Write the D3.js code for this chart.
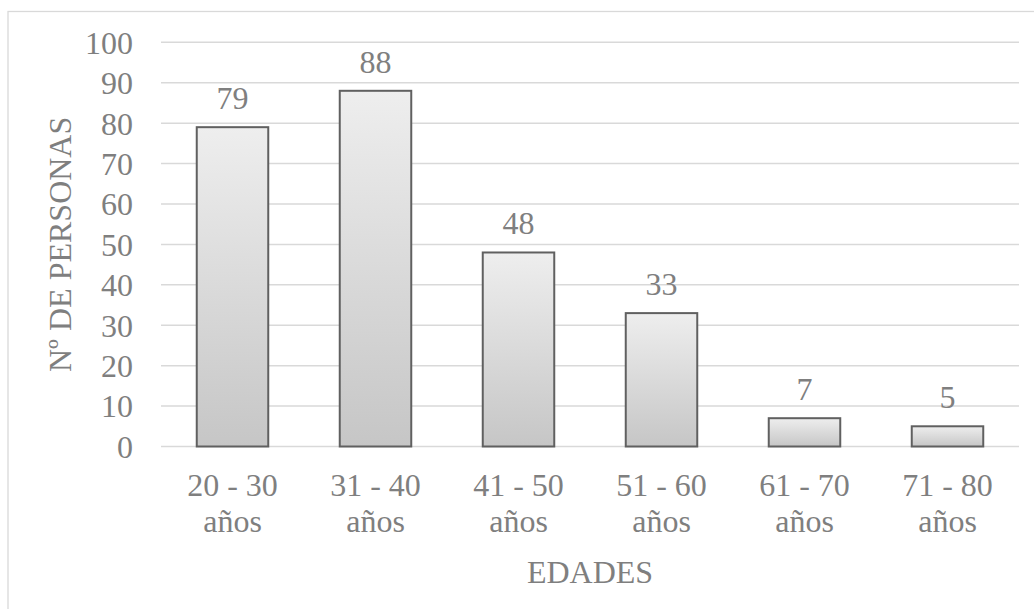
<!DOCTYPE html>
<html><head><meta charset="utf-8">
<script src="https://cdn.jsdelivr.net/npm/d3@7"></script>
<style>html,body{margin:0;padding:0;background:#fff;}svg{display:block;}
svg text{font-family:"Liberation Serif","Times New Roman",Times,"DejaVu Serif",serif;}</style>
</head><body>
<svg id="chart" width="1034" height="609"></svg>
<script>
const categories = [["20 - 30","años"],["31 - 40","años"],["41 - 50","años"],["51 - 60","años"],["61 - 70","años"],["71 - 80","años"]];
const values = [79, 88, 48, 33, 7, 5];
const yTicks = [0,10,20,30,40,50,60,70,80,90,100];
const xTitle = "EDADES";
const yTitle = "Nº DE PERSONAS";

const svg = d3.select("#chart");
const txt = "#7f7f7f";
const fs = 32;
const pLeft = 161, pRight = 1019, pTop = 42.3, pBottom = 446.5;

svg.append("rect").attr("x",8).attr("y",11.5).attr("width",1040).attr("height",620)
  .attr("fill","#fff").attr("stroke","#d9d9d9").attr("stroke-width",1.3);

const defs = svg.append("defs");
const g = defs.append("linearGradient").attr("id","barGrad").attr("x1",0).attr("y1",0).attr("x2",0).attr("y2",1);
g.append("stop").attr("offset","0%").attr("stop-color","#eeeeee");
g.append("stop").attr("offset","100%").attr("stop-color","#c6c6c6");

const x = d3.scaleBand().domain(d3.range(categories.length)).range([pLeft,pRight]).paddingInner(0.5).paddingOuter(0.25);
const y = d3.scaleLinear().domain([0,100]).range([pBottom,pTop]);

// gridlines
svg.append("g").selectAll("line").data(yTicks).join("line")
  .attr("x1",pLeft).attr("x2",pRight).attr("y1",d=>y(d)).attr("y2",d=>y(d))
  .attr("stroke","#d9d9d9").attr("stroke-width",1.5);

// y axis labels
const yAxis = d3.axisLeft(y).tickValues(yTicks).tickSize(0).tickPadding(28);
const ya = svg.append("g").attr("transform",`translate(${pLeft},0)`).call(yAxis);
ya.attr("font-family",null).attr("font-size",null);
ya.select(".domain").remove();
ya.selectAll("text").style("font-size",fs+"px").attr("fill",txt).attr("dy","0.34em");

// bars
svg.append("g").selectAll("rect").data(values).join("rect")
  .attr("x",(d,i)=>x(i)).attr("width",x.bandwidth())
  .attr("y",d=>y(d)).attr("height",d=>y(0)-y(d))
  .attr("fill","url(#barGrad)").attr("stroke","#606060").attr("stroke-width",2);

// data labels
svg.append("g").selectAll("text").data(values).join("text")
  .attr("x",(d,i)=>x(i)+x.bandwidth()/2).attr("y",d=>y(d)-18)
  .attr("text-anchor","middle").style("font-size",fs+"px").attr("fill",txt)
  .text(d=>d);

// x labels
const xl = svg.append("g").selectAll("text").data(categories).join("text")
  .attr("x",(d,i)=>x(i)+x.bandwidth()/2).attr("y",496)
  .attr("text-anchor","middle").style("font-size",fs+"px").attr("fill",txt);
xl.each(function(d,i){
  const t = d3.select(this);
  d.forEach((line,k)=>{
    t.append("tspan").attr("x",x(i)+x.bandwidth()/2).attr("y",496+k*36).text(line);
  });
});

// axis titles
svg.append("text").attr("x",(pLeft+pRight)/2).attr("y",583).attr("text-anchor","middle")
  .style("font-size",fs+"px").attr("fill",txt).text(xTitle);
svg.append("text").attr("transform",`translate(71,${(pTop+pBottom)/2}) rotate(-90)`)
  .attr("text-anchor","middle").style("font-size",fs+"px").attr("fill",txt).text(yTitle);
</script>
</body></html>
